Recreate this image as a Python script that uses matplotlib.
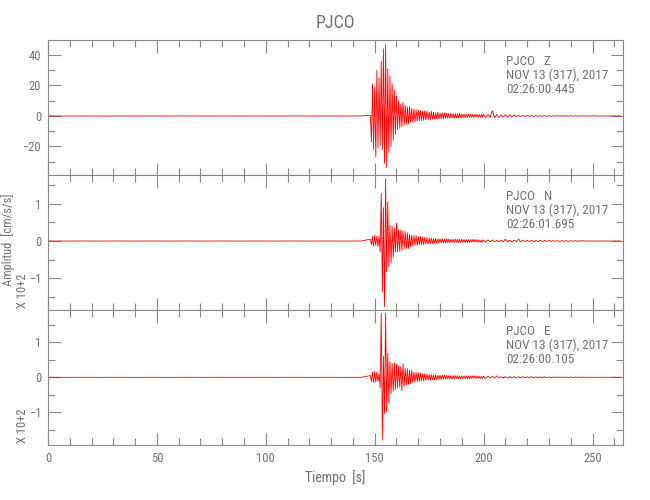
import numpy as np
import matplotlib
matplotlib.use('Agg')
import matplotlib.pyplot as plt
from matplotlib.ticker import MultipleLocator

plt.rcParams['font.family'] = ['Roboto Condensed', 'Liberation Sans Narrow', 'DejaVu Sans Condensed',
                               'Roboto', 'DejaVu Sans']

station = 'PJCO'
comps = ['Z', 'N', 'E']
fecha = 'NOV 13 (317), 2017'
horas = ['02:26:00.445', '02:26:01.695', '02:26:00.105']

# time grids (s)
t_pre = np.arange(0, 148, 8)
t_strong = np.arange(148, 200, 0.5)
t_tail = np.arange(200, 264, 1)

# Z [cm/s/s]
z_pre = [0.03, -0.03, 0.03, -0.03, 0.03, -0.03, 0.03, -0.03, 0.03, -0.03, 0.03, -0.03, 0.03, -0.03, 0.03, -0.03, 0.03, -0.03, 0.03]
z_strong = [0.5, -17, 21, -22, 19, -27, 30, -21, 25, -19, 36, -22, 44, -31, 47, -34,
            31, -24, 26, -20, 21, -16, 17, -12, 13, -9, 10, -8, 8, -7, 9, -6,
            7, -6, 6, -5, 6, -4, 5, -4, 4.5, -4, 4, -3.5, 4, -3, 3.5, -3,
            3, -3, 3.5, -2.5, 3, -2.5, 2.5, -2.5, 3, -2, 2.5, -2, 2, -2,
            2.5, -2, 2, -1.8, 2, -1.8, 2, -1.5, 1.8, -1.5, 1.5, -1.5, 1.8, -1.4,
            1.5, -1.3, 1.5, -1.3, 1.4, -1.2, 1.5, -1.1, 1.3, -1.1, 1.3, -1.1, 1.2, -1.0,
            1.3, -1.0, 1.2, -1.0, 1.1, -1.0, 1.0, -0.9, 1.1, -0.9, 1.0, -0.9, 1.0, -0.8]
z_tail = [1.2, -1.0, 1.2, -1.0, 3.5, -1.2, 1.0, -1.0, 0.8, -0.8, 0.8, -0.7, 0.7, -0.6, 0.6, -0.5,
          0.4, -0.4, 0.4, -0.3, 0.3, -0.3, 0.3, -0.3, 0.3, -0.2, 0.2, -0.2, 0.2, -0.2, 0.2, -0.2,
          0.2, -0.2, 0.2, -0.15, 0.2, -0.15, 0.15, -0.15, 0.15, -0.15, 0.15, -0.15, 0.15, -0.1, 0.15, -0.1,
          0.1, -0.1, 0.15, -0.1, 0.1, -0.1, 0.1, -0.1, 0.1, -0.1, 0.1, -0.1, 0.1, -0.1, 0.1, -0.1]

# N [x 10+2 cm/s/s]
n_pre = [0.001, -0.001, 0.001, -0.001, 0.001, -0.001, 0.001, -0.001, 0.001, -0.001, 0.001, -0.001, 0.001, -0.001, 0.001, -0.001, 0.001, -0.001, 0.001]
n_strong = [0.05, -0.1, 0.12, -0.14, 0.15, -0.12, 0.14, -0.15, 0.12, -0.3, 1.29, -1.37, 0.9, -1.77, 1.68, -0.83,
            1.06, -0.7, 0.43, -0.6, 0.4, -0.45, 0.35, -0.3, 0.48, -0.3, 0.3, -0.28, 0.3, -0.25, 0.28, -0.22,
            0.25, -0.2, 0.22, -0.2, 0.18, -0.15, 0.16, -0.14, 0.15, -0.12, 0.14, -0.12, 0.12, -0.1, 0.12, -0.1,
            0.1, -0.1, 0.1, -0.08, 0.09, -0.08, 0.08, -0.07, 0.08, -0.07, 0.07, -0.06, 0.07, -0.06,
            0.06, -0.06, 0.06, -0.05, 0.06, -0.05, 0.05, -0.05, 0.06, -0.05, 0.05, -0.05, 0.05, -0.04,
            0.05, -0.04, 0.05, -0.04, 0.05, -0.04, 0.04, -0.04, 0.05, -0.04, 0.04, -0.04, 0.04, -0.04,
            0.04, -0.04, 0.04, -0.03, 0.04, -0.03, 0.04, -0.03, 0.04, -0.03, 0.03, -0.03, 0.03, -0.03]
n_tail = [0.03, -0.03, 0.03, -0.02, 0.03, -0.02, 0.02, -0.02, 0.02, -0.02, 0.05, -0.02, 0.02, -0.02, 0.02, -0.02,
          0.05, -0.02, 0.02, -0.015, 0.02, -0.015, 0.02, -0.015, 0.015, -0.015, 0.02, -0.015, 0.015, -0.01, 0.015, -0.01,
          0.01, -0.01, 0.01, -0.01, 0.01, -0.01, 0.01, -0.01, 0.01, -0.01, 0.01, -0.01, 0.01, -0.005, 0.01, -0.005,
          0.005, -0.005, 0.005, -0.005, 0.005, -0.005, 0.005, -0.005, 0.005, -0.005, 0.005, -0.005, 0.005, -0.005, 0.005, -0.005]

# E [x 10+2 cm/s/s]
e_pre = [0.001, -0.001, 0.001, -0.001, 0.001, -0.001, 0.001, -0.001, 0.001, -0.001, 0.001, -0.001, 0.001, -0.001, 0.001, -0.001, 0.001, -0.001, 0.001]
e_strong = [0.05, -0.12, 0.15, -0.15, 0.17, -0.14, 0.15, -0.12, 0.1, -0.3, 1.83, -1.79, 0.6, -1.03, 1.83, -0.98,
            0.69, -0.74, 0.45, -0.46, 0.4, -0.4, 0.42, -0.35, 0.38, -0.3, 0.32, -0.28, 0.3, -0.38, 0.38, -0.25,
            0.25, -0.22, 0.25, -0.2, 0.2, -0.18, 0.2, -0.15, 0.15, -0.14, 0.14, -0.12, 0.13, -0.12, 0.12, -0.1,
            0.1, -0.1, 0.1, -0.09, 0.09, -0.08, 0.08, -0.08, 0.08, -0.07, 0.07, -0.07, 0.07, -0.06,
            0.06, -0.06, 0.06, -0.06, 0.06, -0.05, 0.06, -0.05, 0.05, -0.05, 0.05, -0.05, 0.05, -0.05,
            0.05, -0.04, 0.05, -0.04, 0.05, -0.04, 0.04, -0.04, 0.04, -0.04, 0.04, -0.04, 0.04, -0.04,
            0.04, -0.04, 0.04, -0.03, 0.04, -0.03, 0.04, -0.03, 0.04, -0.03, 0.03, -0.03, 0.03, -0.03]
e_tail = [0.03, -0.03, 0.03, -0.02, 0.03, -0.02, 0.04, -0.02, 0.02, -0.02, 0.02, -0.02, 0.02, -0.02, 0.02, -0.02,
          0.02, -0.015, 0.02, -0.015, 0.015, -0.015, 0.02, -0.015, 0.015, -0.015, 0.015, -0.01, 0.015, -0.01, 0.01, -0.01,
          0.01, -0.01, 0.01, -0.01, 0.01, -0.01, 0.01, -0.01, 0.01, -0.01, 0.01, -0.005, 0.01, -0.005, 0.005, -0.005,
          0.005, -0.005, 0.005, -0.005, 0.005, -0.005, 0.005, -0.005, 0.005, -0.005, 0.005, -0.005, 0.005, -0.005, 0.005, -0.005]

ylims = [(-38.7, 49.8), (-1.86, 1.78), (-1.93, 1.92)]
ymajor = [20, 1, 1]
yminor = [10, 0.5, 0.5]

t = np.concatenate([t_pre, t_strong, t_tail])
datos = [np.concatenate([z_pre, z_strong, z_tail]),
         np.concatenate([n_pre, n_strong, n_tail]),
         np.concatenate([e_pre, e_strong, e_tail])]

gris = '#888888'
txt = '#707070'
fig = plt.figure(figsize=(6.5, 5), dpi=100)
bottoms = [0.65, 0.38, 0.11]
for i in range(3):
    ax = fig.add_axes([48/650, bottoms[i], 575/650, 0.27])
    ax.plot(t, datos[i], color='red', lw=0.6)
    ax.set_xlim(0, 264)
    ax.set_ylim(ylims[i])
    ax.xaxis.set_major_locator(MultipleLocator(50))
    ax.xaxis.set_minor_locator(MultipleLocator(10))
    ax.yaxis.set_major_locator(MultipleLocator(ymajor[i]))
    ax.yaxis.set_minor_locator(MultipleLocator(yminor[i]))
    ax.tick_params(which='both', direction='in', top=True, right=True, color=gris,
                   labelcolor=txt, labelsize=9, width=0.8, pad=5)
    ax.tick_params(which='major', length=9)
    ax.tick_params(which='minor', length=5)
    for s in ax.spines.values():
        s.set_color(gris)
        s.set_linewidth(0.8)
    if i < 2:
        ax.set_xticklabels([])
    lin = [station + '   ' + comps[i], fecha, horas[i]]
    for k in range(3):
        ax.text(0.797, 0.84 - k*0.105, lin[k], transform=ax.transAxes,
                fontsize=9.5, color=txt, va='center', ha='left')
    if i > 0:
        fig.text(23/650, bottoms[i] + 0.004, 'X 10+2', rotation=90, ha='center', va='bottom',
                 fontsize=9, color=txt)
    if i == 2:
        ax.set_xlabel('Tiempo  [s]', fontsize=10, color=txt, labelpad=4)

fig.text(8/650, 0.52, 'Amplitud  [cm/s/s]', rotation=90, ha='center', va='center',
         fontsize=9, color=txt)
fig.text(335.5/650, 0.954, station, ha='center', va='center', fontsize=13, color=txt)

fig.savefig('out.png', dpi=100)
